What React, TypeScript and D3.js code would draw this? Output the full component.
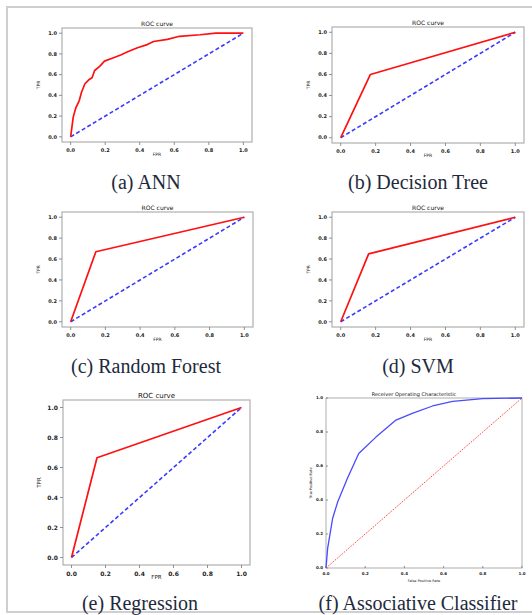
import React from 'react';
import { scaleLinear, line } from 'd3';

// tick values shared by every panel
const rateTicks = [0, 0.2, 0.4, 0.6, 0.8, 1.0];
const chanceFpr = [0, 1];
const chanceTpr = [0, 1];

// (a) ANN
const annFpr = [0, 0.015, 0.03, 0.05, 0.063, 0.082, 0.105, 0.124, 0.139, 0.168, 0.196, 0.244, 0.29, 0.33, 0.387, 0.444, 0.48, 0.56, 0.63, 0.75, 0.84, 1];
const annTpr = [0, 0.19, 0.28, 0.35, 0.43, 0.51, 0.55, 0.57, 0.64, 0.68, 0.73, 0.76, 0.79, 0.82, 0.86, 0.89, 0.92, 0.94, 0.97, 0.985, 1, 1];

// (b) Decision Tree
const dtFpr = [0, 0.17, 1];
const dtTpr = [0, 0.6, 1];

// (c) Random Forest
const rfFpr = [0, 0.145, 1];
const rfTpr = [0, 0.67, 1];

// (d) SVM
const svmFpr = [0, 0.16, 1];
const svmTpr = [0, 0.65, 1];

// (e) Regression
const lrFpr = [0, 0.15, 1];
const lrTpr = [0, 0.665, 1];

// (f) Associative Classifier
const acFpr = [0, 0.0085, 0.034, 0.06, 0.11, 0.167, 0.255, 0.357, 0.44, 0.544, 0.646, 0.8, 1];
const acTpr = [0, 0.117, 0.293, 0.39, 0.53, 0.674, 0.77, 0.87, 0.91, 0.953, 0.98, 0.996, 1];

type Box = { x: number; y: number; w: number; h: number };

type PanelProps = {
    box: Box;
    fpr: number[];
    tpr: number[];
    title: string;
    xLabel: string;
    yLabel: string;
    caption: string;
    captionX: number;
    captionY: number;
    modern: boolean;
    fontSize: number;
};

const Panel = (props: PanelProps) => {
    const { box, fpr, tpr, title, xLabel, yLabel, caption, captionX, captionY, modern, fontSize } = props;
    const pad = modern ? 0.05 : 0;

    const x = scaleLinear().domain([-pad, 1 + pad]).range([box.x, box.x + box.w]);
    const y = scaleLinear().domain([-pad, 1 + pad]).range([box.y + box.h, box.y]);

    const path = line<number>()
        .x((d) => x(d))
        .y((d, i) => y(tpr[i]));
    const chance = line<number>()
        .x((d) => x(d))
        .y((d, i) => y(chanceTpr[i]));

    const curveColor = modern ? '#ff1010' : '#4a4aff';
    const diagColor = modern ? '#3a3aff' : '#ff3030';
    const tickLen = modern ? 3 : -2;
    const bottom = box.y + box.h;

    return (
        <g>
            <rect x={box.x} y={box.y} width={box.w} height={box.h} fill="#fff"
                stroke={modern ? '#b0b0b0' : '#999'} strokeWidth={modern ? 1.2 : 0.8} />
            <path d={chance(chanceFpr) || ''} fill="none" stroke={diagColor}
                strokeWidth={modern ? 1.6 : 1} strokeDasharray={modern ? '4,2.5' : '1.2,1.2'} />
            <path d={path(fpr) || ''} fill="none" stroke={curveColor}
                strokeWidth={modern ? 1.7 : 1.3} strokeLinejoin="round" />
            {rateTicks.map((t) => (
                <g key={'x' + t}>
                    <line x1={x(t)} x2={x(t)} y1={bottom} y2={bottom + tickLen} stroke="#777" strokeWidth={0.8} />
                    <text x={x(t)} y={bottom + (modern ? 4.5 : 2.5) + fontSize} textAnchor="middle"
                        fontSize={fontSize} fontWeight="bold" fill="#222">{t.toFixed(1)}</text>
                </g>
            ))}
            {rateTicks.map((t) => (
                <g key={'y' + t}>
                    <line x1={box.x} x2={box.x - tickLen} y1={y(t)} y2={y(t)} stroke="#777" strokeWidth={0.8} />
                    <text x={box.x - (modern ? 5 : 3)} y={y(t) + fontSize * 0.35} textAnchor="end"
                        fontSize={fontSize} fontWeight="bold" fill="#222">{t.toFixed(1)}</text>
                </g>
            ))}
            <text x={modern ? box.x + box.w / 2 : box.x + box.w / 2 - 10} y={box.y - 2.5} textAnchor="middle"
                fontSize={fontSize + 1} fill="#111">{title}</text>
            <text x={box.x + box.w / 2} y={bottom + 14} textAnchor="middle"
                fontSize={fontSize - 0.5} fill="#222">{xLabel}</text>
            <text transform={`translate(${box.x - (modern ? 22 : 14)},${box.y + box.h / 2}) rotate(-90)`}
                textAnchor="middle" fontSize={fontSize - 0.5} fill="#222">{yLabel}</text>
            <text x={captionX} y={captionY} textAnchor="middle" fontFamily="'Liberation Serif', serif"
                fontSize={20} fill="#1e2a3c">{caption}</text>
        </g>
    );
};

const App = () => {
    return (
        <svg width={532} height={615} style={{ position: 'absolute', left: 0, top: 0 }}
            fontFamily="'DejaVu Sans', sans-serif">
            <rect x={0} y={0} width={532} height={615} fill="#fff" />
            <rect x={7} y={7} width={540} height={605} fill="none" stroke="#cfcfcf" strokeWidth={2} />
            <Panel box={{ x: 62, y: 28, w: 190, h: 114 }} fpr={annFpr} tpr={annTpr} title="ROC curve"
                xLabel="FPR" yLabel="TPR" caption="(a) ANN" captionX={146} captionY={189} modern fontSize={5} />
            <Panel box={{ x: 332, y: 27, w: 192, h: 116 }} fpr={dtFpr} tpr={dtTpr} title="ROC curve"
                xLabel="FPR" yLabel="TPR" caption="(b) Decision Tree" captionX={418} captionY={189} modern fontSize={5} />
            <Panel box={{ x: 62, y: 212, w: 191, h: 115 }} fpr={rfFpr} tpr={rfTpr} title="ROC curve"
                xLabel="FPR" yLabel="TPR" caption="(c) Random Forest" captionX={146} captionY={373} modern fontSize={5} />
            <Panel box={{ x: 332, y: 212, w: 192, h: 115 }} fpr={svmFpr} tpr={svmTpr} title="ROC curve"
                xLabel="FPR" yLabel="TPR" caption="(d) SVM" captionX={418} captionY={373} modern fontSize={5} />
            <Panel box={{ x: 63, y: 400, w: 187, h: 165 }} fpr={lrFpr} tpr={lrTpr} title="ROC curve"
                xLabel="FPR" yLabel="TPR" caption="(e) Regression" captionX={140} captionY={610} modern fontSize={6} />
            <Panel box={{ x: 326, y: 398, w: 196, h: 170 }} fpr={acFpr} tpr={acTpr} title="Receiver Operating Characteristic"
                xLabel="False Positive Rate" yLabel="True Positive Rate" caption="(f) Associative Classifier"
                captionX={418} captionY={610} modern={false} fontSize={4} />
        </svg>
    );
};

export default App;
